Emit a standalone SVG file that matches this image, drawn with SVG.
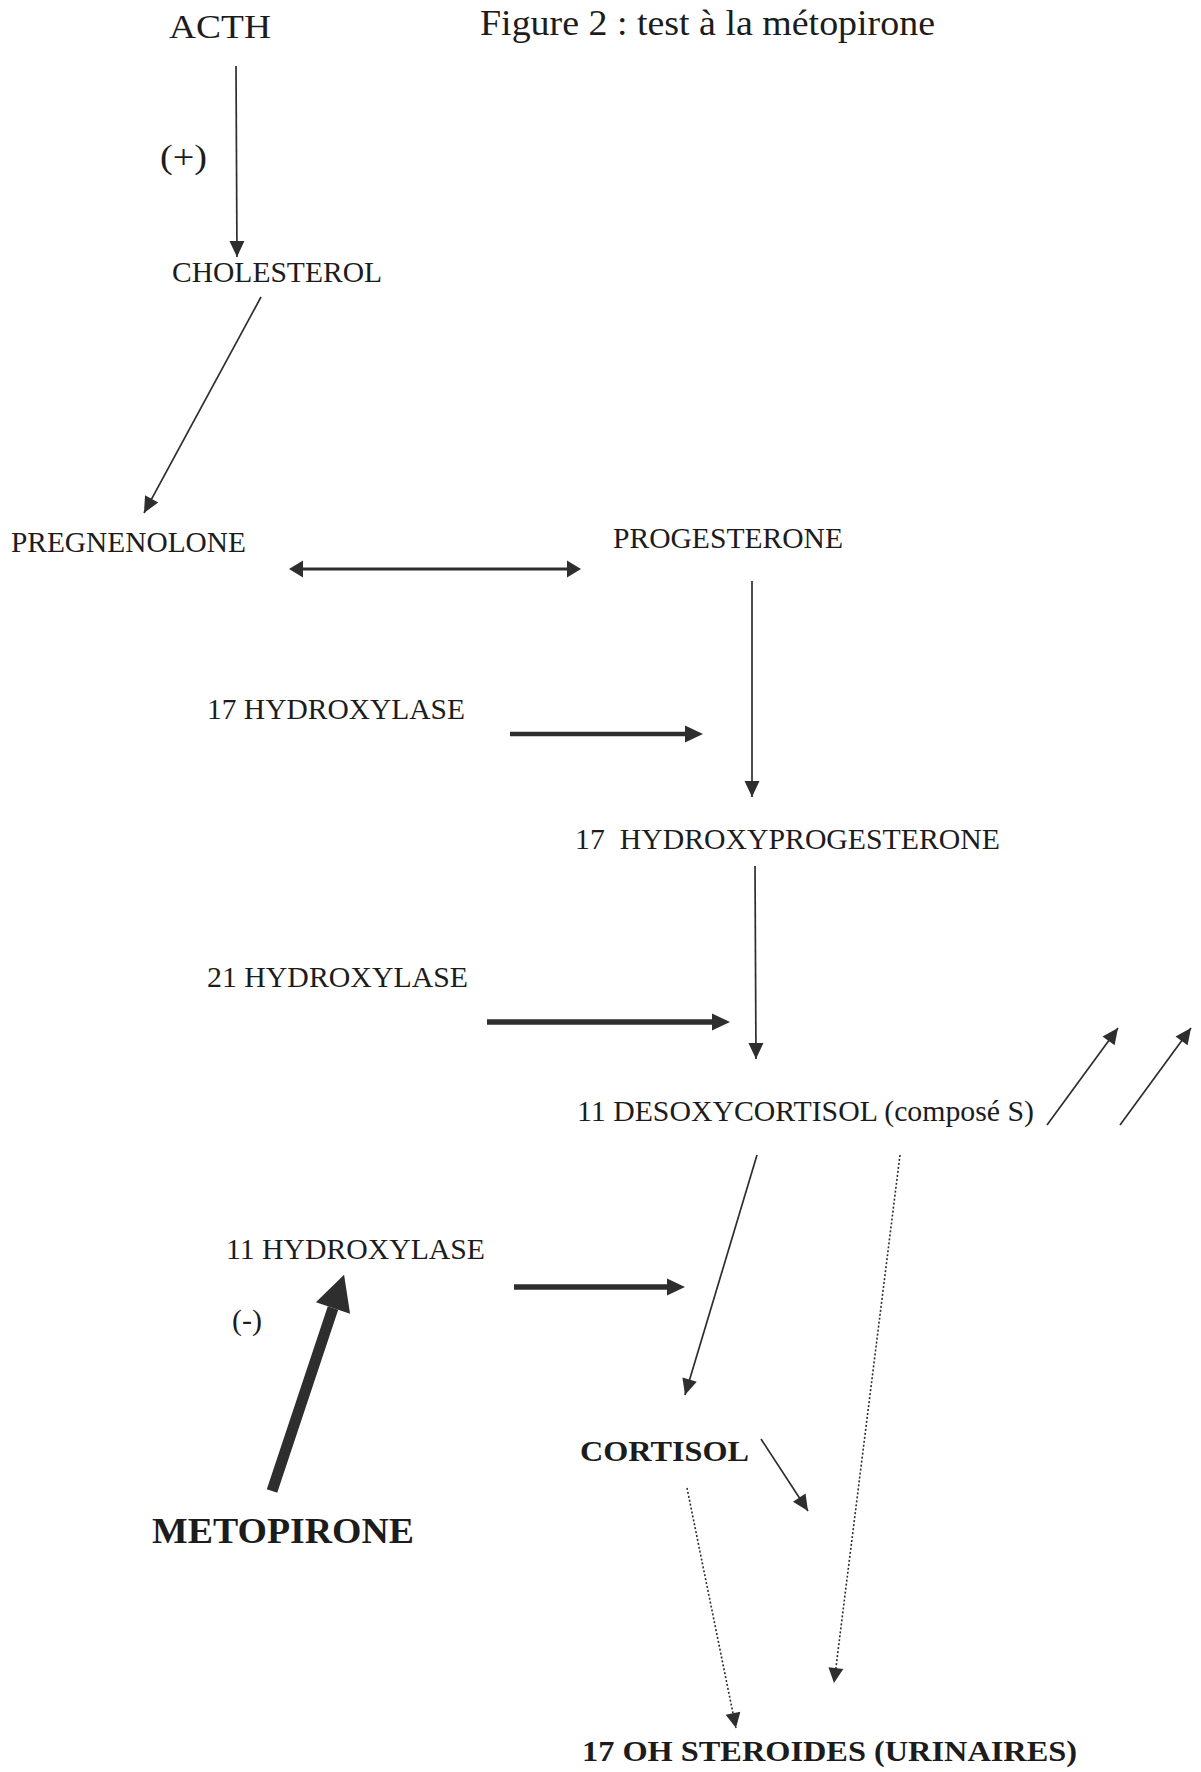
<svg xmlns="http://www.w3.org/2000/svg" width="1201" height="1772" viewBox="0 0 1201 1772">
<style>
text{font-family:"Liberation Serif","Times New Roman",serif;fill:#1c1c1c;}
.n{font-size:29px;}
.b{font-weight:bold;}
.c{fill:none;stroke:#2e2e2e;}
.thin{stroke-width:1.7;marker-end:url(#mThin);}
.dot{stroke-width:1.6;stroke-dasharray:2 2;marker-end:url(#mDot);}
.thick{marker-end:url(#mThick);}
</style>
<defs>
<marker id="mThin" markerUnits="userSpaceOnUse" markerWidth="16" markerHeight="15" refX="16" refY="7.5" orient="auto" overflow="visible"><path d="M0,0 L16,7.5 L0,15 z" fill="#2e2e2e"/></marker>
<marker id="mDot" markerUnits="userSpaceOnUse" markerWidth="15" markerHeight="15" refX="15" refY="7.5" orient="auto" overflow="visible"><path d="M0,0 L15,7.5 L0,15 z" fill="#2e2e2e"/></marker>
<marker id="mThick" markerUnits="userSpaceOnUse" markerWidth="18" markerHeight="17" refX="0" refY="8.5" orient="auto" overflow="visible"><path d="M0,0 L18,8.5 L0,17 z" fill="#2e2e2e"/></marker>
<marker id="mDouble" markerUnits="userSpaceOnUse" markerWidth="14" markerHeight="17" refX="0" refY="8.5" orient="auto-start-reverse" overflow="visible"><path d="M0,0 L14,8.5 L0,17 z" fill="#2e2e2e"/></marker>
<marker id="mBig" markerUnits="userSpaceOnUse" markerWidth="35" markerHeight="36" refX="0" refY="18" orient="auto" overflow="visible"><path d="M0,0 L35,18 L0,36 z" fill="#2e2e2e"/></marker>
</defs>
<rect width="1201" height="1772" fill="#fff"/>
<g id="title"><text x="480" y="35" font-size="35" textLength="455" lengthAdjust="spacingAndGlyphs">Figure 2 : test à la métopirone</text></g>
<g id="acth"><text x="169" y="38" font-size="33" textLength="102" lengthAdjust="spacingAndGlyphs">ACTH</text></g>
<g id="plus"><text x="160" y="168" font-size="34" textLength="47" lengthAdjust="spacingAndGlyphs">(+)</text></g>
<g id="cholesterol"><text class="n" x="172" y="282" textLength="210" lengthAdjust="spacingAndGlyphs">CHOLESTEROL</text></g>
<g id="pregnenolone"><text class="n" x="11" y="552" textLength="235" lengthAdjust="spacingAndGlyphs">PREGNENOLONE</text></g>
<g id="progesterone"><text class="n" x="613" y="548" textLength="230" lengthAdjust="spacingAndGlyphs">PROGESTERONE</text></g>
<g id="hydroxylase17"><text class="n" x="207" y="719" textLength="258" lengthAdjust="spacingAndGlyphs">17 HYDROXYLASE</text></g>
<g id="hydroxyprogesterone"><text class="n" x="575" y="849" textLength="425" lengthAdjust="spacingAndGlyphs" xml:space="preserve">17  HYDROXYPROGESTERONE</text></g>
<g id="hydroxylase21"><text class="n" x="207" y="987" textLength="261" lengthAdjust="spacingAndGlyphs">21 HYDROXYLASE</text></g>
<g id="desoxycortisol"><text class="n" x="577" y="1121" textLength="457" lengthAdjust="spacingAndGlyphs">11 DESOXYCORTISOL (composé S)</text></g>
<g id="hydroxylase11"><text class="n" x="226" y="1259" textLength="259" lengthAdjust="spacingAndGlyphs">11 HYDROXYLASE</text></g>
<g id="minus"><text class="n" x="232" y="1330" textLength="30" lengthAdjust="spacingAndGlyphs">(-)</text></g>
<g id="cortisol"><text class="n b" x="580" y="1461" textLength="169" lengthAdjust="spacingAndGlyphs">CORTISOL</text></g>
<g id="metopirone"><text class="b" x="152" y="1543" font-size="36" textLength="262" lengthAdjust="spacingAndGlyphs">METOPIRONE</text></g>
<g id="steroides"><text class="b" x="582" y="1761" font-size="30" textLength="495" lengthAdjust="spacingAndGlyphs">17 OH STEROIDES (URINAIRES)</text></g>
<g id="connectors">
<line class="c thin" x1="236" y1="66" x2="237" y2="257"/>
<line class="c thin" x1="261" y1="297" x2="144" y2="513"/>
<line class="c" x1="303" y1="569" x2="567" y2="569" stroke-width="3.2" marker-start="url(#mDouble)" marker-end="url(#mDouble)"/>
<line class="c thin" x1="752" y1="581" x2="752" y2="797"/>
<line class="c thick" x1="510" y1="734" x2="685" y2="734" stroke-width="4.5"/>
<line class="c thin" x1="755" y1="866" x2="756" y2="1059"/>
<line class="c thick" x1="487" y1="1022" x2="712" y2="1022" stroke-width="5.5"/>
<line class="c thin" x1="1047" y1="1125" x2="1118" y2="1028"/>
<line class="c thin" x1="1120" y1="1125" x2="1191" y2="1028"/>
<line class="c thin" x1="757" y1="1155" x2="685" y2="1395"/>
<line class="c dot" x1="900" y1="1155" x2="834" y2="1683"/>
<line class="c thick" x1="514" y1="1287" x2="667" y2="1287" stroke-width="5.5"/>
<line class="c" x1="272" y1="1491" x2="333" y2="1308" stroke-width="11" marker-end="url(#mBig)"/>
<line class="c thin" x1="761" y1="1439" x2="808" y2="1511"/>
<line class="c dot" x1="687" y1="1488" x2="736" y2="1728"/>
</g>
</svg>
